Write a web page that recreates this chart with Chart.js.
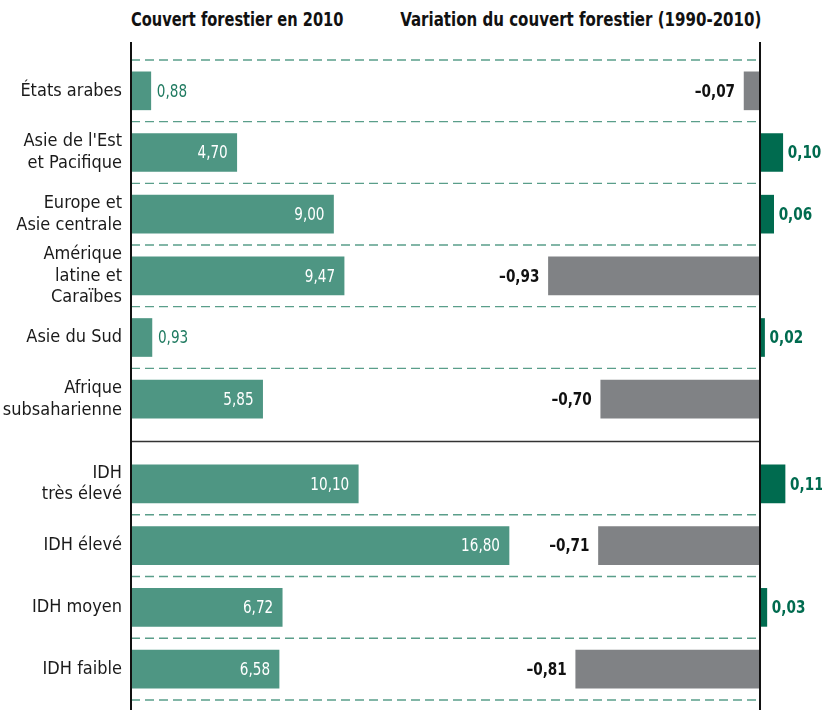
<!DOCTYPE html>
<html>
<head>
<meta charset="utf-8">
<script src="https://cdn.jsdelivr.net/npm/chart.js@4"></script>
<style>
  body { margin: 0; background: #fff; }
  #wrap { position: relative; width: 822px; height: 710px; overflow: hidden; }
  .title { position: absolute; top: 8px; font: bold 19px 'DejaVu Sans Condensed', sans-serif; color: #111; white-space: nowrap; }
  #t1 { left: 131px; transform: scaleX(0.855); transform-origin: left center; }
  #t2 { right: 61px; transform: scaleX(0.88); transform-origin: right center; }
  #chartTop { position: absolute; left: 0; top: 0; }
  #chartBottom { position: absolute; left: 0; top: 443px; }
</style>
</head>
<body>
<div id="wrap">
  <div class="title" id="t1">Couvert forestier en 2010</div>
  <div class="title" id="t2">Variation du couvert forestier (1990-2010)</div>
  <canvas id="chartTop" width="822" height="443"></canvas>
  <canvas id="chartBottom" width="822" height="267"></canvas>
</div>
<script>
const regionLabels = [['États arabes'], ["Asie de l'Est", 'et Pacifique'], ['Europe et', 'Asie centrale'], ['Amérique', 'latine et', 'Caraïbes'], ['Asie du Sud'], ['Afrique', 'subsaharienne']];
const regionCover = [0.88, 4.70, 9.00, 9.47, 0.93, 5.85];
const regionChange = [-0.07, 0.10, 0.06, -0.93, 0.02, -0.70];

const hdiLabels = [['IDH', 'très élevé'], ['IDH élevé'], ['IDH moyen'], ['IDH faible']];
const hdiCover = [10.10, 16.80, 6.72, 6.58];
const hdiChange = [0.11, -0.71, 0.03, -0.81];

const FONT = "'DejaVu Sans Condensed', sans-serif";
const GREEN = '#4e9683';
const DARK_GREEN = '#006b4f';
const GREY = '#808285';

function fmt(v) {
  return v.toFixed(2).replace('.', ',').replace('-', '–');
}

// draw text squeezed horizontally, the reference uses a condensed face
function narrowText(ctx, text, x, y, align) {
  ctx.save();
  ctx.translate(x, y);
  ctx.scale(0.84, 1);
  ctx.textAlign = align;
  ctx.fillText(text, 0, 0);
  ctx.restore();
}

const decorPlugin = {
  id: 'decor',
  afterDatasetsDraw(chart, args, opts) {
    const ctx = chart.ctx;
    const area = chart.chartArea;
    const x = chart.scales.x;
    const x2 = chart.scales.x2;
    const n = chart.data.labels.length;
    const row = (area.bottom - area.top) / n;
    const left = x.getPixelForValue(0);
    const right = x2.getPixelForValue(0);

    ctx.save();
    // dashed row separators
    ctx.strokeStyle = '#5a9e8a';
    ctx.lineWidth = 1.3;
    ctx.setLineDash([9, 5]);
    for (let i = 0; i < n; i++) {
      let y = opts.dashTop ? area.top + i * row : area.top + (i + 1) * row;
      ctx.beginPath();
      ctx.moveTo(left, y);
      ctx.lineTo(right, y);
      ctx.stroke();
    }
    ctx.setLineDash([]);

    // group separator
    if (opts.separator) {
      ctx.strokeStyle = '#333';
      ctx.lineWidth = 1.5;
      ctx.beginPath();
      ctx.moveTo(left, chart.height - 1.5);
      ctx.lineTo(right, chart.height - 1.5);
      ctx.stroke();
    }

    // axis lines
    ctx.strokeStyle = '#111';
    ctx.lineWidth = 2;
    [left, right].forEach((ax) => {
      ctx.beginPath();
      ctx.moveTo(ax, opts.lineTop);
      ctx.lineTo(ax, chart.height);
      ctx.stroke();
    });

    // value labels
    ctx.textBaseline = 'middle';
    chart.getDatasetMeta(0).data.forEach((bar, i) => {
      let v = chart.data.datasets[0].data[i];
      ctx.font = '18px ' + FONT;
      if (v > 3) {
        ctx.fillStyle = '#fff';
        narrowText(ctx, fmt(v), bar.x - 9, bar.y + 1, 'right');
      } else {
        ctx.fillStyle = '#1f7a60';
        narrowText(ctx, fmt(v), bar.x + 6, bar.y + 1, 'left');
      }
    });
    chart.getDatasetMeta(1).data.forEach((bar, i) => {
      let v = chart.data.datasets[1].data[i];
      ctx.font = 'bold 18px ' + FONT;
      if (v < 0) {
        ctx.fillStyle = '#111';
        narrowText(ctx, fmt(v), bar.x - 9, bar.y + 1, 'right');
      } else {
        ctx.fillStyle = DARK_GREEN;
        narrowText(ctx, fmt(v), bar.x + 5, bar.y + 1, 'left');
      }
    });
    ctx.restore();
  }
};

function drawChart(id, labels, cover, change, padTop, padBottom, decor) {
  let ctx = document.getElementById(id).getContext('2d');
  return new Chart(ctx, {
    type: 'bar',
    data: {
      labels: labels,
      datasets: [
        {
          label: 'Couvert forestier en 2010',
          data: cover,
          xAxisID: 'x',
          backgroundColor: GREEN,
          barThickness: 38,
          grouped: false
        },
        {
          label: 'Variation du couvert forestier (1990-2010)',
          data: change,
          xAxisID: 'x2',
          backgroundColor: change.map(v => v < 0 ? GREY : DARK_GREEN),
          barThickness: 38,
          grouped: false
        }
      ]
    },
    options: {
      indexAxis: 'y',
      responsive: false,
      animation: { duration: 0 },
      layout: { padding: { top: padTop, bottom: padBottom, left: 0, right: 0 } },
      scales: {
        x: { display: false, min: 0, max: 30.71 },
        x2: { display: false, min: -2.765, max: 0.2725 },
        y: {
          offset: true,
          grid: { display: false, drawTicks: false },
          border: { display: false },
          ticks: {
            autoSkip: false,
            color: '#1a1a1a',
            padding: 9,
            font: { family: FONT, size: 18, lineHeight: 1.2 }
          },
          afterFit: (scale) => {
            scale.width = 131;
            scale.paddingTop = 0;
            scale.paddingBottom = 0;
          }
        }
      },
      plugins: {
        legend: { display: false },
        tooltip: { enabled: false },
        decor: decor
      }
    },
    plugins: [decorPlugin]
  });
}

drawChart('chartTop', regionLabels, regionCover, regionChange, 60, 13, { dashTop: true, separator: true, lineTop: 42 });
drawChart('chartBottom', hdiLabels, hdiCover, hdiChange, 10, 10, { dashTop: false, separator: false, lineTop: 0 });
</script>
</body>
</html>
